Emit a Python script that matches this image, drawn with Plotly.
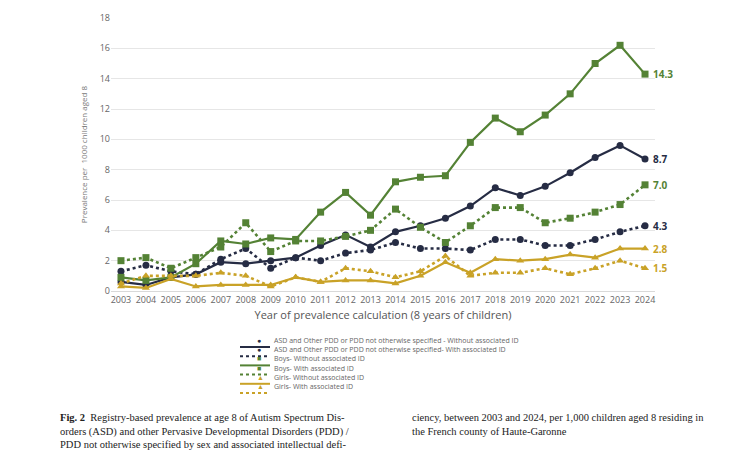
import plotly.graph_objects as go

years = list(range(2003, 2025))

asd_without = [0.6, 0.4, 0.9, 1.1, 1.9, 1.8, 2.0, 2.2, 3.0, 3.7, 2.9, 3.9, 4.3, 4.8, 5.6, 6.8, 6.3, 6.9, 7.8, 8.8, 9.6, 8.7]
asd_with = [1.3, 1.7, 1.3, 1.1, 2.1, 2.8, 1.5, 2.2, 2.0, 2.5, 2.7, 3.2, 2.8, 2.8, 2.7, 3.4, 3.4, 3.0, 3.0, 3.4, 3.9, 4.3]
boys_without = [0.9, 0.7, 0.9, 1.8, 3.3, 3.1, 3.5, 3.4, 5.2, 6.5, 5.0, 7.2, 7.5, 7.6, 9.8, 11.4, 10.5, 11.6, 13.0, 15.0, 16.2, 14.3]
boys_with = [2.0, 2.2, 1.5, 2.2, 2.9, 4.5, 2.6, 3.3, 3.3, 3.6, 4.0, 5.4, 4.2, 3.2, 4.3, 5.5, 5.5, 4.5, 4.8, 5.2, 5.7, 7.0]
girls_without = [0.3, 0.2, 0.8, 0.3, 0.4, 0.4, 0.4, 0.9, 0.6, 0.7, 0.7, 0.5, 1.0, 1.9, 1.2, 2.1, 2.0, 2.1, 2.4, 2.2, 2.8, 2.8]
girls_with = [0.5, 1.0, 1.0, 1.0, 1.2, 1.0, 0.3, 0.9, 0.6, 1.5, 1.3, 0.9, 1.3, 2.3, 1.0, 1.2, 1.2, 1.5, 1.1, 1.5, 2.0, 1.5]

navy = "#262c44"
green = "#548235"
gold = "#c9a227"

series = [
    ("ASD and Other PDD or PDD not otherwise specified - Without associated ID", asd_without, navy, "solid", "circle", "●"),
    ("ASD and Other PDD or PDD not otherwise specified- With associated ID", asd_with, navy, "dot", "circle", "●"),
    ("Boys- Without associated ID", boys_without, green, "solid", "square", "■"),
    ("Boys- With associated ID", boys_with, green, "dot", "square", "■"),
    ("Girls- Without associated ID", girls_without, gold, "solid", "triangle-up", "▲"),
    ("Girls- With associated ID", girls_with, gold, "dot", "triangle-up", "▲"),
]

# plot area in pixels, used to place the hand-made legend
L, R, T, B = 103, 647, 10, 283
def px(x):
    return (x - L) / (R - L)
def py(y):
    return (B - y) / (B - T)

fig = go.Figure()
for i, (name, vals, col, dash, sym, glyph) in enumerate(series):
    fig.add_trace(go.Scatter(x=years, y=vals, name=name, mode="lines+markers", showlegend=False,
                             line=dict(color=col, width=2.2 if dash == "solid" else 2.6, dash=dash),
                             marker=dict(color=col, symbol=sym, size=7)))
    fig.add_annotation(x=years[-1], y=vals[-1], text="<b>%.1f</b>" % vals[-1], showarrow=False,
                       xanchor="left", xshift=6, font=dict(size=10, color=col))
    # legend row
    ry = 339 + i * 9.2
    fig.add_shape(type="line", xref="paper", yref="paper", x0=px(232), x1=px(262), y0=py(ry), y1=py(ry),
                  line=dict(color=col, width=2, dash=dash))
    fig.add_annotation(xref="paper", yref="paper", x=px(247), y=py(ry), text=glyph, showarrow=False,
                       font=dict(size=7, color=col))
    fig.add_annotation(xref="paper", yref="paper", x=px(264), y=py(ry), text=name, showarrow=False,
                       xanchor="left", font=dict(size=7, color="#666"))

fig.update_layout(
    width=752, height=456,
    paper_bgcolor="white", plot_bgcolor="white",
    font=dict(family="Open Sans", color="#666"),
    margin=dict(l=L, r=752 - R, t=T, b=456 - B, autoexpand=False),
    showlegend=False,
)
fig.update_xaxes(range=[2002.6, 2024.4], tickmode="array", tickvals=years, automargin=False,
                 tickfont=dict(size=9), showgrid=False, showline=True, linecolor="#d9d9d9",
                 title=dict(text="Year of prevalence calculation (8 years of children)", font=dict(size=11, color="#555"), standoff=6))
fig.update_yaxes(range=[0, 18], dtick=2, tickfont=dict(size=9), gridcolor="#e6e6e6", zeroline=False, automargin=False,
                 title=dict(text="Prevalence per  1000 children aged 8", font=dict(size=8, color="#777"), standoff=10))

fig.add_annotation(xref="paper", yref="paper", x=px(50), y=py(402), xanchor="left", yanchor="top", align="left",
                   showarrow=False, font=dict(family="Liberation Serif", size=10.5, color="#222"),
                   text="<b>Fig. 2</b>  Registry-based prevalence at age 8 of Autism Spectrum Dis-<br>"
                        "orders (ASD) and other Pervasive Developmental Disorders (PDD) /<br>"
                        "PDD not otherwise specified by sex and associated intellectual defi-")
fig.add_annotation(xref="paper", yref="paper", x=px(402), y=py(402), xanchor="left", yanchor="top", align="left",
                   showarrow=False, font=dict(family="Liberation Serif", size=10.5, color="#222"),
                   text="ciency, between 2003 and 2024, per 1,000 children aged 8 residing in<br>"
                        "the French county of Haute-Garonne")

fig.write_html("out.html")
